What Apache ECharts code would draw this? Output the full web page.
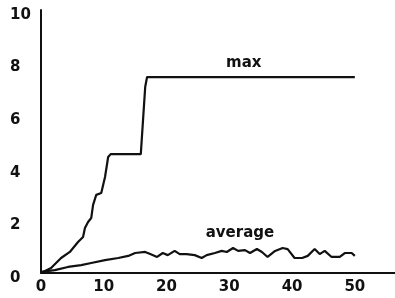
<!DOCTYPE html>
<html>
<head>
<meta charset="utf-8">
<script src="https://cdn.jsdelivr.net/npm/echarts@6/dist/echarts.min.js"></script>
<style>
  html, body { margin: 0; padding: 0; background: #fff; }
  #chart { width: 395px; height: 298px; }
</style>
</head>
<body>
<div id="chart"></div>
<script>
// tick labels
var xTicks = [0, 10, 20, 30, 40, 50];
var yTicks = [0, 2, 4, 6, 8, 10];

// max curve (generation, value)
var maxX = [0, 1.6, 3.2, 4.6, 5.9, 6.7, 7.0, 7.5, 8.0, 8.3, 8.8, 9.6, 10.2, 10.7, 11.1, 15.9, 16.6, 16.9, 50];
var maxY = [0, 0.19, 0.57, 0.8, 1.18, 1.37, 1.71, 1.94, 2.09, 2.59, 2.97, 3.04, 3.65, 4.41, 4.52, 4.52, 7.07, 7.45, 7.45];

// average curve
var avgX = [0, 2.2, 4.3, 6.4, 8.0, 10.2, 12.3, 13.9, 15.0, 16.6, 17.4, 18.5, 19.4, 20.2, 21.3, 22.1, 23.2, 24.5, 25.6, 26.4, 27.7, 28.8, 29.6, 30.6, 31.4, 32.5, 33.3, 34.4, 35.2, 36.1, 37.3, 38.5, 39.3, 40.4, 41.6, 42.5, 43.6, 44.4, 45.2, 46.3, 47.6, 48.4, 49.5, 50];
var avgY = [0.04, 0.11, 0.23, 0.30, 0.38, 0.49, 0.57, 0.65, 0.76, 0.80, 0.72, 0.61, 0.76, 0.68, 0.84, 0.72, 0.72, 0.68, 0.57, 0.68, 0.76, 0.84, 0.80, 0.95, 0.84, 0.87, 0.76, 0.91, 0.80, 0.61, 0.84, 0.95, 0.91, 0.57, 0.57, 0.65, 0.91, 0.72, 0.84, 0.61, 0.61, 0.76, 0.76, 0.65];

function pairs(xs, ys) {
  var out = [];
  for (var i = 0; i < xs.length; i++) out.push([xs[i], ys[i]]);
  return out;
}

var font = { fontFamily: 'DejaVu Sans', fontWeight: 'bold', fontSize: 15, color: '#111' };

function tag(text, x, y) {
  return {
    symbol: 'circle', symbolSize: 0, coord: [x, y],
    label: {
      show: true, position: 'inside', formatter: text,
      fontFamily: font.fontFamily, fontWeight: font.fontWeight,
      fontSize: font.fontSize, color: font.color
    }
  };
}

var chart = echarts.init(document.getElementById('chart'));
chart.setOption({
  animation: false,
  grid: { left: 41, right: 0, top: 10, bottom: 25 },
  xAxis: {
    type: 'value', min: 0, max: 56.4, interval: 10,
    axisLine: { lineStyle: { color: '#111', width: 2 } },
    axisTick: { show: false },
    splitLine: { show: false },
    axisLabel: {
      margin: 7, showMaxLabel: false,
      fontFamily: font.fontFamily, fontWeight: font.fontWeight, fontSize: font.fontSize, color: font.color,
      formatter: function (v) { return xTicks.indexOf(v) >= 0 ? String(v) : ''; }
    }
  },
  yAxis: {
    type: 'value', min: 0, max: 10, interval: 2,
    axisLine: { show: true, lineStyle: { color: '#111', width: 2 } },
    axisTick: { show: false },
    splitLine: { show: false },
    axisLabel: {
      align: 'left', margin: 31, verticalAlign: 'top', lineHeight: 10,
      fontFamily: font.fontFamily, fontWeight: font.fontWeight, fontSize: font.fontSize, color: font.color,
      formatter: function (v) { return yTicks.indexOf(v) >= 0 ? String(v) : ''; }
    }
  },
  series: [
    {
      name: 'max', type: 'line', data: pairs(maxX, maxY),
      symbol: 'none', lineStyle: { color: '#111', width: 2.2 },
      markPoint: { data: [tag('max', 32.3, 7.98)] }
    },
    {
      name: 'average', type: 'line', data: pairs(avgX, avgY),
      symbol: 'none', lineStyle: { color: '#111', width: 2.2 },
      markPoint: { data: [tag('average', 31.7, 1.52)] }
    }
  ]
});
</script>
</body>
</html>
